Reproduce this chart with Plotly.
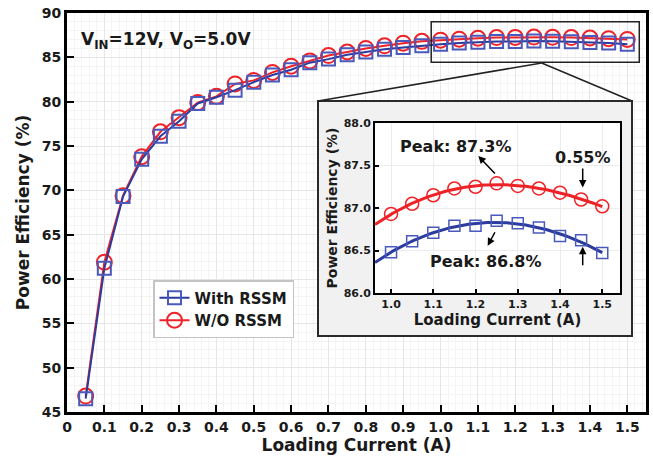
import numpy as np
import plotly.graph_objects as go

# ---------------- data ----------------
current = [0.05, 0.10, 0.15, 0.20, 0.25, 0.30, 0.35, 0.40, 0.45, 0.50,
           0.55, 0.60, 0.65, 0.70, 0.75, 0.80, 0.85, 0.90, 0.95, 1.00,
           1.05, 1.10, 1.15, 1.20, 1.25, 1.30, 1.35, 1.40, 1.45, 1.50]
with_rssm = [46.5, 61.2, 69.3, 73.5, 76.1, 77.8, 79.8, 80.5, 81.3, 82.2,
             83.0, 83.6, 84.4, 84.8, 85.3, 85.6, 85.9, 86.1, 86.3, 86.48,
             86.61, 86.71, 86.79, 86.79, 86.85, 86.82, 86.77, 86.67, 86.62, 86.47]
wo_rssm = [46.8, 61.9, 69.4, 73.8, 76.6, 78.2, 79.9, 80.6, 82.0, 82.4,
           83.3, 84.0, 84.6, 85.2, 85.6, 86.0, 86.3, 86.6, 86.8, 86.93,
           87.05, 87.15, 87.23, 87.25, 87.29, 87.26, 87.23, 87.18, 87.10, 87.02]

inset_current = current[19:]
inset_with = with_rssm[19:]
inset_wo = wo_rssm[19:]

x_tickvals = [0, 0.1, 0.2, 0.3, 0.4, 0.5, 0.6, 0.7, 0.8, 0.9, 1.0, 1.1, 1.2, 1.3, 1.4, 1.5]
x_ticktext = ["0", "0.1", "0.2", "0.3", "0.4", "0.5", "0.6", "0.7", "0.8", "0.9",
              "1.0", "1.1", "1.2", "1.3", "1.4", "1.5"]
y_tickvals = [45, 50, 55, 60, 65, 70, 75, 80, 85, 90]
inset_x_tickvals = [1.0, 1.1, 1.2, 1.3, 1.4, 1.5]
inset_y_tickvals = [86.0, 86.5, 87.0, 87.5, 88.0]

# ---------------- style ----------------
FONT = "DejaVu Sans, Arial, sans-serif"
TXT = "#1a1a1a"
RED = "#ee2227"
BLUE_LINE = "#2b3b9e"
BLUE_MK = "#4a5abc"


def bfont(size):
    return dict(family=FONT, size=size, color=TXT, weight="bold")


fig = go.Figure()

# main chart
fig.add_trace(go.Scatter(x=current, y=wo_rssm, mode="lines+markers", name="W/O RSSM",
                         line=dict(color=RED, width=2),
                         marker=dict(symbol="circle-open", size=15, color=RED, line=dict(width=2)),
                         xaxis="x", yaxis="y"))
fig.add_trace(go.Scatter(x=current, y=with_rssm, mode="lines+markers", name="With RSSM",
                         line=dict(color=BLUE_LINE, width=2),
                         marker=dict(symbol="square-open", size=13, color=BLUE_MK, line=dict(width=2)),
                         xaxis="x", yaxis="y"))

# inset: fitted trend lines + markers
xf = np.linspace(0.962, 1.5, 120)
red_fit = np.polyval(np.polyfit(inset_current, inset_wo, 3), xf)
blue_fit = np.polyval(np.polyfit(inset_current, inset_with, 3), xf)

fig.add_trace(go.Scatter(x=xf, y=red_fit, mode="lines", line=dict(color=RED, width=3),
                         showlegend=False, xaxis="x3", yaxis="y3", hoverinfo="skip"))
fig.add_trace(go.Scatter(x=xf, y=blue_fit, mode="lines", line=dict(color=BLUE_LINE, width=3),
                         showlegend=False, xaxis="x3", yaxis="y3", hoverinfo="skip"))
fig.add_trace(go.Scatter(x=inset_current, y=inset_wo, mode="markers", showlegend=False,
                         marker=dict(symbol="circle-open", size=13, color=RED, line=dict(width=1.5)),
                         xaxis="x3", yaxis="y3"))
fig.add_trace(go.Scatter(x=inset_current, y=inset_with, mode="markers", showlegend=False,
                         marker=dict(symbol="square-open", size=11, color=BLUE_MK, line=dict(width=1.5)),
                         xaxis="x3", yaxis="y3"))

# geometry (page body margin is removed by the post script)
W, H = 653, 462
PL, PR, PT, PB = 67, 646, 13, 412          # plot area in page pixels
ML, MT = PL, PT
MR, MB = (W - PR), (H - PB)
PW, PH = PR - PL, PB - PT


def px(x):
    return (x - PL) / PW


def py(y):
    return 1 - (y - PT) / PH


panel = dict(x0=px(318), x1=px(632), y0=py(336), y1=py(101))
inner = dict(x0=px(375), x1=px(620), y0=py(293), y1=py(123))

axis_common = dict(showline=True, linecolor="black", linewidth=3, mirror=True,
                   ticks="inside", ticklen=7, tickwidth=2, tickcolor="black",
                   showgrid=True, gridcolor="#e6e6e6", gridwidth=1, zeroline=False,
                   automargin=False, ticklabeloverflow="allow")
inset_common = dict(showline=True, linecolor="black", linewidth=2, mirror=True,
                    ticks="inside", ticklen=4, tickwidth=1.5, tickcolor="black",
                    showgrid=True, gridcolor="#ececec", zeroline=False,
                    automargin=False, tickformat=".1f", tickfont=bfont(11))

fig.update_layout(
    width=W, height=H,
    margin=dict(l=ML, r=MR, t=MT, b=MB, autoexpand=False),
    paper_bgcolor="white", plot_bgcolor="white",
    font=dict(family=FONT, color=TXT),
    xaxis=dict(range=[0, 1.55], tickvals=x_tickvals, ticktext=x_ticktext,
               tickfont=bfont(14),
               title=dict(text="Loading Current (A)", font=bfont(17), standoff=4),
               minor=dict(dtick=0.02, showgrid=True, gridcolor="#f4f4f4", ticks=""),
               **axis_common),
    yaxis=dict(range=[45, 90], tickvals=y_tickvals, tickfont=bfont(14),
               title=dict(text="Power Efficiency (%)", font=bfont(17), standoff=8),
               minor=dict(dtick=1, showgrid=True, gridcolor="#f4f4f4", ticks=""),
               **axis_common),
    # panel subplot (background only)
    xaxis2=dict(domain=[panel["x0"], panel["x1"]], range=[0, 1], visible=False, anchor="y2", fixedrange=True),
    yaxis2=dict(domain=[panel["y0"], panel["y1"]], range=[0, 1], visible=False, anchor="x2", fixedrange=True),
    # inset subplot
    xaxis3=dict(domain=[inner["x0"], inner["x1"]], range=[0.962, 1.542], anchor="y3",
                tickvals=inset_x_tickvals,
                title=dict(text="Loading Current (A)", font=bfont(15), standoff=3),
                **inset_common),
    yaxis3=dict(domain=[inner["y0"], inner["y1"]], range=[86.0, 88.0], anchor="x3",
                tickvals=inset_y_tickvals,
                title=dict(text="Power Efficiency (%)", font=bfont(14), standoff=3),
                **inset_common),
    legend=dict(x=px(153), y=py(280), xanchor="left", yanchor="top",
                bgcolor="white", bordercolor="#c4c4c4", borderwidth=1.5,
                font=bfont(15), traceorder="reversed", itemwidth=30, tracegroupgap=0),
    showlegend=True,
)

shapes = [
    # panel background, drawn in the panel subplot (above main chart, below inset)
    dict(type="rect", xref="x2", yref="y2", x0=0, x1=1, y0=0, y1=1, layer="below",
         fillcolor="#f1f1f1", line=dict(width=0)),
    # inset plot white background
    dict(type="rect", xref="x3", yref="y3", x0=0.962, x1=1.542, y0=86, y1=88, layer="below",
         fillcolor="white", line=dict(width=0)),
    # panel border
    dict(type="rect", xref="paper", yref="paper", x0=panel["x0"], x1=panel["x1"],
         y0=panel["y0"], y1=panel["y1"], layer="above",
         line=dict(color="#2a2a2a", width=2), fillcolor="rgba(0,0,0,0)"),
    # zoom rectangle on main chart
    dict(type="rect", xref="x", yref="y", x0=0.975, x1=1.532, y0=84.45, y1=89.0, layer="above",
         line=dict(color="#222", width=1.5), fillcolor="rgba(0,0,0,0)"),
    # connectors
    dict(type="line", xref="paper", yref="paper", x0=px(541.7), y0=py(63), x1=panel["x0"], y1=panel["y1"],
         layer="above", line=dict(color="#222", width=1.5)),
    dict(type="line", xref="paper", yref="paper", x0=px(541.7), y0=py(63), x1=panel["x1"], y1=panel["y1"],
         layer="above", line=dict(color="#222", width=1.5)),
]
fig.update_layout(shapes=shapes)

arrow = dict(showarrow=True, arrowhead=2, arrowsize=1, arrowwidth=1.5, arrowcolor="black")
annotations = [
    dict(text="V<sub>IN</sub>=12V, V<sub>O</sub>=5.0V", xref="paper", yref="paper",
         x=px(79), y=py(40), xanchor="left", yanchor="middle", showarrow=False,
         font=bfont(17)),
    dict(text="Peak: 87.3%", xref="x3", yref="y3", x=1.153, y=87.72,
         showarrow=False, font=bfont(16)),
    # 0.55% label with its down arrow
    dict(text="0.55%", xref="x3", yref="y3", x=1.4537, y=87.24, ax=0, ay=-30,
         font=bfont(16), **arrow),
    dict(text="Peak: 86.8%", xref="x3", yref="y3", x=1.225, y=86.376,
         showarrow=False, font=bfont(16)),
    dict(text="", xref="x3", yref="y3", x=1.2066, y=87.612, ax=18, ay=19, **arrow),
    dict(text="", xref="x3", yref="y3", x=1.2288, y=86.556, ax=8, ay=-15, **arrow),
    dict(text="", xref="x3", yref="y3", x=1.4537, y=86.545, ax=0, ay=20, **arrow),
]
fig.update_layout(annotations=annotations)

fig.write_html("out.html", config={"displayModeBar": False},
               post_script="document.body.style.margin='0';")
